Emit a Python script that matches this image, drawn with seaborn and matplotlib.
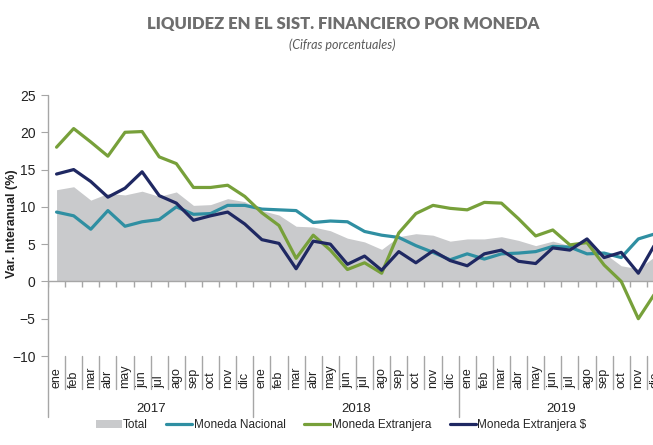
import numpy as np
import pandas as pd
import matplotlib
matplotlib.use('Agg')
import matplotlib.pyplot as plt
import seaborn as sns
from matplotlib.lines import Line2D
from matplotlib.patches import Patch

# datos (ene 2017 - dic 2019)
meses = ['ene', 'feb', 'mar', 'abr', 'may', 'jun', 'jul', 'ago', 'sep', 'oct', 'nov', 'dic'] * 3
anios = ['2017', '2018', '2019']

total = [12.3, 12.7, 10.9, 11.8, 11.6, 12.1, 11.4, 12.0, 10.2, 10.3, 11.1, 10.7,
         9.5, 8.9, 7.4, 7.3, 6.8, 5.8, 5.3, 4.3, 6.0, 6.4, 6.2, 5.4,
         5.7, 5.7, 6.0, 5.5, 4.8, 5.4, 4.8, 5.1, 3.8, 2.1, 1.7, 3.4]
nacional = [9.3, 8.8, 7.0, 9.5, 7.4, 8.0, 8.3, 10.0, 9.0, 9.1, 10.2, 10.2,
            9.7, 9.6, 9.5, 7.9, 8.1, 8.0, 6.7, 6.2, 5.9, 4.8, 3.9, 2.9,
            3.7, 3.0, 3.7, 3.8, 4.0, 4.7, 4.6, 3.7, 3.8, 3.2, 5.7, 6.4]
extranjera = [18.0, 20.5, 18.7, 16.8, 20.0, 20.1, 16.7, 15.8, 12.6, 12.6, 12.9, 11.4,
              9.2, 7.5, 3.1, 6.2, 4.2, 1.6, 2.5, 1.1, 6.5, 9.1, 10.2, 9.8,
              9.6, 10.6, 10.5, 8.4, 6.1, 6.9, 4.9, 5.2, 2.2, 0.0, -5.0, -1.5]
extranjera_usd = [14.4, 15.0, 13.4, 11.3, 12.5, 14.7, 11.5, 10.5, 8.2, 8.8, 9.3, 7.7,
                  5.6, 5.1, 1.7, 5.4, 5.0, 2.3, 3.4, 1.5, 4.0, 2.5, 4.1, 2.8,
                  2.1, 3.7, 4.2, 2.7, 2.4, 4.5, 4.2, 5.7, 3.2, 3.9, 1.1, 5.1]

df = pd.DataFrame({'i': np.arange(len(meses)), 'mes': meses, 'Total': total,
                   'Moneda Nacional': nacional, 'Moneda Extranjera': extranjera,
                   'Moneda Extranjera $': extranjera_usd})

colores = {'Total': '#c9cacc', 'Moneda Nacional': '#2f8fa2',
           'Moneda Extranjera': '#77a03a', 'Moneda Extranjera $': '#1f2862'}

sns.set_style('white')
plt.rcParams['font.family'] = ['Liberation Sans', 'DejaVu Sans']

fig = plt.figure(figsize=(6.53, 4.45), dpi=100)
ax = fig.add_axes([48 / 653, 1 - 356 / 445, 616 / 653, 261 / 445])

gris = '#a6a6a6'
n = len(meses)

# area total
ax.fill_between(df['i'], 0, df['Total'], color=colores['Total'], lw=0, zorder=1)

# lineas
for serie in ['Moneda Nacional', 'Moneda Extranjera', 'Moneda Extranjera $']:
    sns.lineplot(data=df, x='i', y=serie, color=colores[serie], lw=2.3, ax=ax, zorder=3)

ax.set_xlim(-0.5, n - 0.5)
ax.set_ylim(-10, 25)
ax.set_yticks(range(-10, 30, 5))
ax.set_xticks([])
ax.set_xlabel('')
ax.set_ylabel('')
for s in ax.spines.values():
    s.set_visible(False)
ax.tick_params(axis='y', left=True, length=5, color=gris, labelsize=10, pad=4, labelcolor='#222222')

# eje en cero con marcas
ax.axhline(0, color=gris, lw=1, zorder=2)
ax.vlines(np.arange(n + 1) - 0.5, -0.8, 0, color=gris, lw=1, zorder=2)

# eje vertical largo
ax.plot([0, 0], [1, -61 / 261], transform=ax.transAxes, color=gris, lw=1, clip_on=False)

# etiquetas de meses y separadores
tr = ax.get_xaxis_transform()
for k in range(1, n + 1):
    largo = -61 / 261 if k % 12 == 0 else -33 / 261
    ax.plot([k - 0.5, k - 0.5], [0, largo], transform=tr, color=gris, lw=1, clip_on=False)
for i, m in enumerate(meses):
    ax.text(i, -32 / 261, m, transform=tr, rotation=90, ha='center', va='bottom',
            fontsize=9, color='#222222', clip_on=False)
for j, a in enumerate(anios):
    ax.text(j * 12 + 5.5, -53 / 261, a, transform=tr, ha='center', va='center',
            fontsize=9.5, color='#222222', clip_on=False)

# titulos
fig.text(0.526, 1 - 24 / 445, 'LIQUIDEZ EN EL SIST. FINANCIERO POR MONEDA', ha='center', va='center',
         fontsize=12, fontweight='heavy', color='#6e6e6e', family=['Lato', 'DejaVu Sans'])
fig.text(0.524, 1 - 45 / 445, '(Cifras porcentuales)', ha='center', va='center',
         fontsize=9, style='italic', color='#5a5a5a', family=['Lato', 'DejaVu Sans'])
fig.text(12 / 653, 1 - 224 / 445, 'Var. Interanual (%)', rotation=90, ha='center', va='center',
         fontsize=9, fontweight='bold', color='#222222')

# leyenda
handles = [Patch(facecolor=colores['Total'], edgecolor='none'),
           Line2D([], [], color=colores['Moneda Nacional'], lw=2.3),
           Line2D([], [], color=colores['Moneda Extranjera'], lw=2.3),
           Line2D([], [], color=colores['Moneda Extranjera $'], lw=2.3)]
fig.legend(handles, ['Total', 'Moneda Nacional', 'Moneda Extranjera', 'Moneda Extranjera $'],
           loc='center', bbox_to_anchor=(0.522, 1 - 425 / 445), ncol=4, frameon=False,
           fontsize=8.5, handlelength=2.2, handletextpad=0.1, columnspacing=1.6)

fig.savefig('out.png', dpi=100)
